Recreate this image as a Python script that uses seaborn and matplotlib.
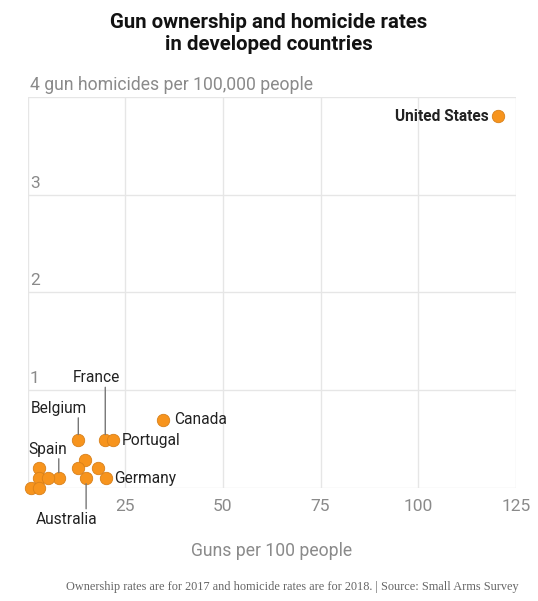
import numpy as np
import pandas as pd
import matplotlib
matplotlib.use('Agg')
import matplotlib.pyplot as plt
import seaborn as sns

# guns per 100 people, gun homicides per 100,000 people
countries = ["United States", "Canada", "Belgium", "France", "Portugal", "Spain",
             "Australia", "Germany", "", "", "", "", "", "", "", ""]
guns = [120.5, 34.7, 13.0, 19.9, 21.9, 8.0, 15.0, 20.0,
        3.0, 3.0, 5.3, 0.8, 3.0, 14.6, 13.0, 18.0]
homicides = [3.80, 0.70, 0.49, 0.49, 0.49, 0.10, 0.10, 0.10,
             0.20, 0.10, 0.10, 0.0, 0.0, 0.29, 0.20, 0.20]

xticks = [25, 50, 75, 100, 125]
yticks = [1, 2, 3]

df = pd.DataFrame({"country": countries, "guns": guns, "homicides": homicides})

sns.set_style("white")
plt.rcParams['font.family'] = ['Roboto', 'DejaVu Sans']

fig = plt.figure(figsize=(5.38, 6.01), dpi=100)
ax = fig.add_axes([27.5 / 538, 1 - 488 / 601, (516 - 27.5) / 538, (488 - 96.7) / 601])

sns.scatterplot(data=df, x="guns", y="homicides", ax=ax, s=80,
                color="#F7941D", edgecolor="#D8801A", linewidth=0.6, zorder=3, clip_on=False)

ax.set_xlim(0, 125)
ax.set_ylim(0, 4)
for s in ax.spines.values():
    s.set_visible(False)
ax.set_xticks([0] + xticks)
ax.set_yticks([0] + yticks + [4])
ax.grid(True, color="#e6e6e6", linewidth=1)
ax.set_axisbelow(True)
ax.tick_params(length=0)
ax.set_xticklabels([""] + [str(t) for t in xticks], color="#8a8a8a", fontsize=12.5)
ax.set_yticklabels([])
ax.xaxis.set_tick_params(pad=8)
ax.set_xlabel("Guns per 100 people", color="#8a8a8a", fontsize=12.7, labelpad=20)
ax.set_ylabel("")

for t in yticks:
    ax.text(0.6, t + 0.04, str(t), color="#8a8a8a", fontsize=12.5, ha="left", va="bottom")
ax.text(0.6, 4.03, "4 gun homicides per 100,000 people", color="#8a8a8a",
        fontsize=12.7, ha="left", va="bottom")

lab = dict(fontsize=11.2, color="#222222")
# labels to the side of points
side = {"United States": (-7, "right"), "Canada": (8, "left"),
        "Portugal": (6, "left"), "Germany": (6, "left")}
for name, (dx, ha) in side.items():
    r = df[df.country == name].iloc[0]
    ax.annotate(name, (r.guns, r.homicides), xytext=(dx, 0), textcoords="offset points",
                ha=ha, va="center", fontweight="bold" if name == "United States" else "normal", **lab)

# labels with leader lines: (text dx, text dy, line end dy)
leader = {"Belgium": (-14, 23, 16), "France": (-6, 45, 38),
          "Spain": (-8, 21, 14), "Australia": (-14, -30, -22)}
for name, (dx, dy, ly) in leader.items():
    r = df[df.country == name].iloc[0]
    ax.annotate("", (r.guns, r.homicides), xytext=(0, ly), textcoords="offset points",
                arrowprops=dict(arrowstyle="-", color="#777777", lw=1, shrinkA=0, shrinkB=4))
    ax.annotate(name, (r.guns, r.homicides), xytext=(dx, dy), textcoords="offset points",
                ha="center", va="center", **lab)

fig.text(0.5, 0.978, "Gun ownership and homicide rates\nin developed countries",
         ha="center", va="top", fontsize=14.7, fontweight="bold", color="#121212",
         linespacing=1.2)
fig.text(519 / 538, 1 - 587 / 601,
         "Ownership rates are for 2017 and homicide rates are for 2018. | Source: Small Arms Survey",
         ha="right", va="center", fontsize=8.8, color="#666666", family=["Liberation Serif"])

fig.savefig("out.png", dpi=100)
